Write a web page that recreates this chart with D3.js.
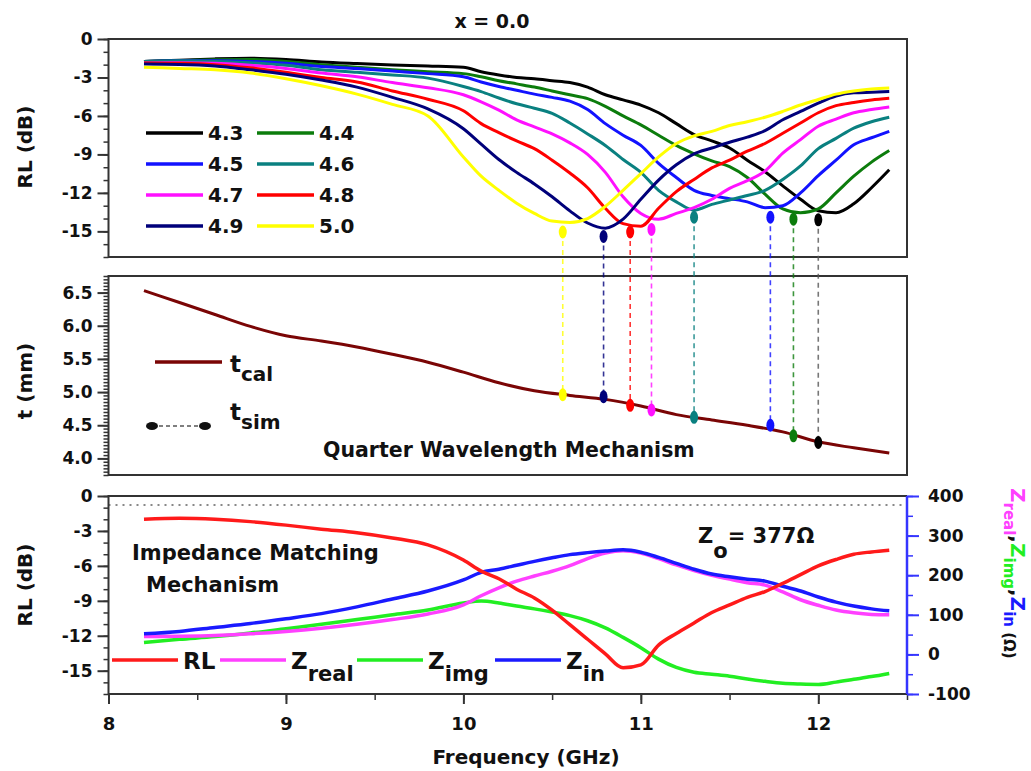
<!DOCTYPE html>
<html>
<head>
<meta charset="utf-8">
<title>x = 0.0</title>
<script src="https://cdnjs.cloudflare.com/ajax/libs/d3/7.8.5/d3.min.js"></script>
<style>
  body { margin: 0; background: #fff; }
  text { font-family: "DejaVu Sans", "Liberation Sans", sans-serif; font-weight: bold; fill: #111; }
  .tick text { font-size: 17px; }
  .xaxis .tick text { font-size: 18px; }
  .tick line { stroke: #333; stroke-width: 2; }
  .minor .tick line { stroke-width: 1.5; }
  .domain { display: none; }
  .zaxis .tick line { stroke: #3535ff; }
</style>
</head>
<body>
<svg id="chart" width="1031" height="771"></svg>
<script>
// ---- data ----
const freq = [8.2, 8.4, 8.6, 8.8, 9.0, 9.2, 9.4, 9.6, 9.8,
  10.0, 10.1, 10.2, 10.3, 10.4, 10.5, 10.6, 10.7, 10.8, 10.9, 11.0, 11.1, 11.2,
  11.3, 11.4, 11.5, 11.6, 11.7, 11.8, 11.9, 12.0, 12.1, 12.2, 12.3, 12.4];

const thickLabels = ["4.3", "4.4", "4.5", "4.6", "4.7", "4.8", "4.9", "5.0"];
const thickColors = ["#000000", "#0c7c0c", "#1212ff", "#0a8080", "#ff10ff", "#ff0000", "#00007a", "#ffff00"];

const rl43 = [-1.75, -1.65, -1.55, -1.5, -1.6, -1.8, -1.92, -2.02, -2.1,
  -2.2, -2.55, -2.8, -3.0, -3.1, -3.25, -3.4, -3.75, -4.35, -4.75, -5.15, -5.75, -6.6,
  -7.45, -7.95, -8.5, -9.45, -10.35, -11.45, -12.5, -13.4, -13.55, -12.85, -11.6, -10.2];
const rl44 = [-1.75, -1.7, -1.62, -1.6, -1.75, -2.0, -2.2, -2.4, -2.55,
  -2.7, -2.95, -3.25, -3.5, -3.75, -4.05, -4.35, -4.65, -5.25, -6.0, -6.7, -7.5, -8.3,
  -8.95, -9.5, -9.95, -10.8, -12.1, -13.25, -13.55, -13.25, -12.0, -10.7, -9.6, -8.7];
const rl45 = [-1.75, -1.7, -1.7, -1.75, -1.9, -2.15, -2.3, -2.5, -2.7,
  -2.95, -3.35, -3.7, -4.0, -4.3, -4.55, -4.85, -5.5, -6.6, -7.5, -8.3, -9.7, -10.8,
  -11.8, -12.2, -12.45, -12.7, -13.15, -13.0, -12.0, -10.65, -9.45, -8.25, -7.7, -7.2];
const rl46 = [-1.75, -1.7, -1.75, -1.85, -2.05, -2.4, -2.6, -2.8, -3.05,
  -3.7, -4.1, -4.6, -5.05, -5.4, -5.8, -6.55, -7.4, -8.3, -9.4, -10.4, -11.8, -12.7,
  -13.35, -12.9, -12.55, -12.2, -11.8, -10.95, -9.9, -8.55, -7.75, -6.95, -6.45, -6.1];
const rl47 = [-1.87, -1.85, -1.9, -2.05, -2.3, -2.65, -2.95, -3.4, -3.8,
  -4.35, -4.9, -5.55, -6.3, -6.85, -7.4, -8.1, -9.0, -10.4, -12.3, -13.6, -14.05, -13.6,
  -13.15, -12.5, -11.65, -11.05, -10.3, -8.9, -7.85, -6.8, -6.25, -5.75, -5.5, -5.3];
const rl48 = [-1.87, -1.9, -2.0, -2.25, -2.6, -3.0, -3.35, -4.05, -4.7,
  -5.6, -6.6, -7.3, -7.95, -8.55, -9.45, -10.45, -11.6, -13.2, -14.4, -14.6, -13.2, -11.9,
  -10.95, -10.05, -9.45, -8.75, -8.15, -7.35, -6.55, -5.75, -5.2, -4.95, -4.75, -4.62];
const rl49 = [-1.95, -1.98, -2.1, -2.4, -2.75, -3.2, -3.75, -4.55, -5.45,
  -7.0, -8.2, -9.4, -10.4, -11.3, -12.3, -13.4, -14.35, -14.75, -14.05, -12.5, -11.0, -9.8,
  -8.95, -8.5, -8.05, -7.65, -7.15, -6.3, -5.65, -5.0, -4.45, -4.2, -4.15, -4.1];
const rl50 = [-2.2, -2.3, -2.4, -2.65, -3.1, -3.65, -4.3, -5.1, -6.0,
  -9.2, -10.7, -11.8, -12.8, -13.6, -14.2, -14.3, -14.0, -13.05, -11.8, -10.5, -9.2, -8.15,
  -7.55, -7.2, -6.75, -6.45, -6.1, -5.65, -5.15, -4.72, -4.3, -4.05, -3.9, -3.82];
const rlCurves = [rl43, rl44, rl45, rl46, rl47, rl48, rl49, rl50];

// minima (simulated) in the same order as thickLabels
const dipFreq = [12.0, 11.86, 11.73, 11.30, 11.06, 10.94, 10.79, 10.56];
const dipRL = [-14.1, -14.05, -13.9, -13.9, -14.85, -15.05, -15.4, -15.05];
const tSim = [4.24, 4.34, 4.50, 4.62, 4.73, 4.80, 4.93, 4.96];

const tFreq = [8.2, 8.4, 8.6, 8.8, 9.0, 9.2, 9.4, 9.6, 9.8, 10.0, 10.2,
  10.4, 10.6, 10.8, 11.0, 11.2, 11.4, 11.6, 11.8, 12.0, 12.2, 12.4];
const tCal = [6.53, 6.35, 6.17, 5.99, 5.85, 5.77, 5.68, 5.57, 5.45, 5.30, 5.14,
  5.02, 4.95, 4.89, 4.79, 4.66, 4.58, 4.50, 4.40, 4.25, 4.16, 4.08];

const rlMatch = [-2.0, -1.92, -2.0, -2.2, -2.5, -2.85, -3.15, -3.6, -4.2,
  -5.5, -6.45, -7.1, -8.0, -8.75, -9.8, -11.05, -12.3, -13.55, -14.75, -14.5, -12.8, -11.8,
  -10.9, -10.0, -9.35, -8.7, -8.2, -7.5, -6.75, -6.0, -5.45, -5.0, -4.8, -4.65];
const zReal = [45, 46, 48, 52, 58, 66, 76, 88, 102,
  125, 148, 168, 185, 198, 210, 224, 242, 256, 262, 256, 242, 226,
  212, 200, 190, 181, 175, 158, 138, 124, 112, 105, 101, 100];
const zImg = [30, 38, 45, 54, 65, 76, 88, 100, 112,
  130, 135, 130, 122, 115, 107, 98, 85, 67, 43, 17, -12, -33,
  -45, -50, -55, -62, -68, -73, -75, -76, -70, -63, -56, -48];
const zIn = [52, 58, 68, 78, 90, 103, 120, 140, 160,
  188, 207, 215, 225, 235, 244, 252, 257, 261, 264, 258, 245, 230,
  215, 203, 196, 190, 185, 172, 160, 145, 132, 122, 115, 110];
const z0 = 377;

const matchNames = ["RL", "Z", "Z", "Z"];
const matchSubs = ["", "real", "img", "in"];
const matchColors = ["#ff1a1a", "#ff40ff", "#22ee22", "#1a1aff"];

// ---- layout ----
const X0 = 108.5, X1 = 907;
const svg = d3.select("#chart");

const x = d3.scaleLinear().domain([8, 12.5]).range([X0, X1]);
const yTop = d3.scaleLinear().domain([-17, 0]).range([257, 39]);
const yT = d3.scaleLinear().domain([3.75, 6.75]).range([475, 276]);
const yRL = d3.scaleLinear().domain([-17, 0]).range([694, 496]);
const yZ = d3.scaleLinear().domain([-100, 400]).range([694, 496]);

function frame(y0, y1) {
  svg.append("rect")
    .attr("x", X0).attr("y", y0)
    .attr("width", X1 - X0).attr("height", y1 - y0)
    .attr("fill", "none").attr("stroke", "#333").attr("stroke-width", 2);
}

function leftAxis(scale, majors, minors, fmt) {
  svg.append("g").attr("class", "minor")
    .attr("transform", `translate(${X0},0)`)
    .call(d3.axisLeft(scale).tickValues(minors).tickSize(5).tickSizeOuter(0).tickFormat(""));
  svg.append("g")
    .attr("transform", `translate(${X0},0)`)
    .call(d3.axisLeft(scale).tickValues(majors).tickSize(11).tickSizeOuter(0).tickPadding(5).tickFormat(fmt));
}

const intFmt = d => String(d);

// ---- top panel: RL vs frequency for each thickness ----
const lineTop = d3.line().x((d, i) => x(freq[i])).y(d => yTop(d)).curve(d3.curveMonotoneX);
svg.append("g").selectAll("path").data(rlCurves).join("path")
  .attr("d", lineTop)
  .attr("fill", "none")
  .attr("stroke", (d, i) => thickColors[i])
  .attr("stroke-width", 3);

frame(39, 257);
leftAxis(yTop, d3.range(-15, 1, 3), d3.range(-17, 1, 1), intFmt);

svg.append("text").attr("x", 492).attr("y", 28).attr("text-anchor", "middle")
  .attr("font-size", 19).text("x = 0.0");

// legend, two columns
const leg = svg.append("g").selectAll("g").data(thickLabels).join("g")
  .attr("transform", (d, i) => `translate(${i % 2 ? 257 : 146},${133 + Math.floor(i / 2) * 31})`);
leg.append("line").attr("x1", 0).attr("x2", 57)
  .attr("stroke", (d, i) => thickColors[i]).attr("stroke-width", 3.5);
leg.append("text").attr("x", 62).attr("dy", "0.36em").attr("font-size", 20).text(d => d);

// ---- middle panel: thickness ----
frame(276, 475);
leftAxis(yT, d3.range(8, 14).map(v => v / 2), d3.range(75, 136).map(v => v / 20), d3.format(".1f"));

svg.append("path")
  .datum(tCal)
  .attr("d", d3.line().x((d, i) => x(tFreq[i])).y(d => yT(d)).curve(d3.curveMonotoneX))
  .attr("fill", "none").attr("stroke", "#7a0505").attr("stroke-width", 3);

// dashed guides from RL minima down to t_sim
svg.append("g").selectAll("line").data(dipFreq).join("line")
  .attr("x1", d => x(d)).attr("x2", d => x(d))
  .attr("y1", (d, i) => yTop(dipRL[i])).attr("y2", (d, i) => yT(tSim[i]))
  .attr("stroke", (d, i) => i === 0 ? "#555" : thickColors[i])
  .attr("stroke-opacity", 0.8)
  .attr("stroke-width", 1.6)
  .attr("stroke-dasharray", "5,4");

svg.append("g").selectAll("ellipse").data(dipFreq).join("ellipse")
  .attr("cx", d => x(d)).attr("cy", (d, i) => yTop(dipRL[i]))
  .attr("rx", 4).attr("ry", 6.5)
  .attr("fill", (d, i) => thickColors[i]);
svg.append("g").selectAll("ellipse").data(dipFreq).join("ellipse")
  .attr("cx", d => x(d)).attr("cy", (d, i) => yT(tSim[i]))
  .attr("rx", 4).attr("ry", 6.5)
  .attr("fill", (d, i) => thickColors[i]);

// legend for t
svg.append("line").attr("x1", 155).attr("x2", 222).attr("y1", 362).attr("y2", 362)
  .attr("stroke", "#7a0505").attr("stroke-width", 3.5);
svg.append("text").attr("x", 230).attr("y", 372).attr("font-size", 23)
  .text("t").append("tspan").attr("dy", 9).attr("font-size", 20).text("cal");
svg.append("line").attr("x1", 152).attr("x2", 205).attr("y1", 426).attr("y2", 426)
  .attr("stroke", "#555").attr("stroke-width", 1.5).attr("stroke-dasharray", "4,3");
svg.append("g").selectAll("ellipse").data([152, 205]).join("ellipse")
  .attr("cx", d => d).attr("cy", 426).attr("rx", 6).attr("ry", 4).attr("fill", "#111");
svg.append("text").attr("x", 230).attr("y", 420).attr("font-size", 23)
  .text("t").append("tspan").attr("dy", 9).attr("font-size", 20).text("sim");

svg.append("text").attr("x", 323).attr("y", 457).attr("font-size", 20.5)
  .text("Quarter Wavelength Mechanism");

// ---- bottom panel: impedance matching ----
svg.append("line")
  .attr("x1", X0).attr("x2", X1).attr("y1", yZ(z0)).attr("y2", yZ(z0))
  .attr("stroke", "#888").attr("stroke-width", 2).attr("stroke-dasharray", "2,5");

const lineRL = d3.line().x((d, i) => x(freq[i])).y(d => yRL(d)).curve(d3.curveMonotoneX);
const lineZ = d3.line().x((d, i) => x(freq[i])).y(d => yZ(d)).curve(d3.curveMonotoneX);
svg.append("path").datum(zImg).attr("d", lineZ)
  .attr("fill", "none").attr("stroke", matchColors[2]).attr("stroke-width", 3.5);
svg.append("path").datum(zReal).attr("d", lineZ)
  .attr("fill", "none").attr("stroke", matchColors[1]).attr("stroke-width", 3.5);
svg.append("path").datum(zIn).attr("d", lineZ)
  .attr("fill", "none").attr("stroke", matchColors[3]).attr("stroke-width", 3.5);
svg.append("path").datum(rlMatch).attr("d", lineRL)
  .attr("fill", "none").attr("stroke", matchColors[0]).attr("stroke-width", 3.5);

svg.append("path")
  .attr("d", `M${X1},496 H${X0} V694 H${X1}`)
  .attr("fill", "none").attr("stroke", "#333").attr("stroke-width", 2);

leftAxis(yRL, d3.range(-15, 1, 3), d3.range(-17, 1, 1), intFmt);

svg.append("g").attr("class", "minor xaxis")
  .attr("transform", "translate(0,694)")
  .call(d3.axisBottom(x).tickValues(d3.range(8, 12.51, 0.5)).tickSize(6).tickSizeOuter(0).tickFormat(""));
svg.append("g").attr("class", "xaxis")
  .attr("transform", "translate(0,694)")
  .call(d3.axisBottom(x).tickValues([8, 9, 10, 11, 12]).tickSize(10).tickSizeOuter(0).tickPadding(13).tickFormat(intFmt));

// right impedance axis
svg.append("line").attr("x1", X1).attr("x2", X1).attr("y1", 496).attr("y2", 694)
  .attr("stroke", "#3535ff").attr("stroke-width", 2.5);
svg.append("g").attr("class", "minor zaxis")
  .attr("transform", `translate(${X1},0)`)
  .call(d3.axisRight(yZ).tickValues(d3.range(-100, 401, 50)).tickSize(6).tickSizeOuter(0).tickFormat(""));
svg.append("g").attr("class", "zaxis")
  .attr("transform", `translate(${X1},0)`)
  .call(d3.axisRight(yZ).tickValues(d3.range(-100, 401, 100)).tickSize(12).tickSizeOuter(0).tickPadding(9).tickFormat(intFmt));

svg.append("text").attr("x", 132).attr("y", 560).attr("font-size", 21).text("Impedance Matching");
svg.append("text").attr("x", 146).attr("y", 592).attr("font-size", 21).text("Mechanism");

const zo = svg.append("text").attr("x", 698).attr("y", 543).attr("font-size", 21);
zo.append("tspan").text("Z");
zo.append("tspan").attr("dy", 15).text("o");
zo.append("tspan").attr("dy", -15).text("= 377\u03A9");

// bottom legend
const legX = [112, 220, 357, 495];
const mleg = svg.append("g").selectAll("g").data(matchNames).join("g")
  .attr("transform", (d, i) => `translate(${legX[i]},660)`);
mleg.append("line").attr("x1", 0).attr("x2", 66)
  .attr("stroke", (d, i) => matchColors[i]).attr("stroke-width", 3.5);
const mt = mleg.append("text").attr("x", 71).attr("y", 9).attr("font-size", 23);
mt.append("tspan").text(d => d);
mt.append("tspan").attr("dy", 12).attr("font-size", 21).text((d, i) => matchSubs[i]);

// right axis title, rotated to read downward
const rightTitle = [
  { t: "Z", dy: 0, size: 20, c: matchColors[1] },
  { t: "real", dy: 7, size: 15, c: matchColors[1] },
  { t: ",", dy: -7, size: 20, c: "#111" },
  { t: "Z", dy: 0, size: 20, c: matchColors[2] },
  { t: "img", dy: 7, size: 15, c: matchColors[2] },
  { t: ",", dy: -7, size: 20, c: "#111" },
  { t: "Z", dy: 0, size: 20, c: matchColors[3] },
  { t: "in", dy: 7, size: 15, c: matchColors[3] },
  { t: " (\u03A9)", dy: 0, size: 15, c: "#111" }
];
svg.append("text").attr("transform", "translate(1011,488) rotate(90)")
  .selectAll("tspan").data(rightTitle).join("tspan")
  .attr("dy", d => d.dy)
  .attr("font-size", d => d.size)
  .style("fill", d => d.c)
  .text(d => d.t);

// axis titles
svg.append("text").attr("transform", "translate(32,147) rotate(-90)").attr("text-anchor", "middle")
  .attr("font-size", 20).text("RL (dB)");
svg.append("text").attr("transform", "translate(32,381) rotate(-90)").attr("text-anchor", "middle")
  .attr("font-size", 20).text("t (mm)");
svg.append("text").attr("transform", "translate(32,585) rotate(-90)").attr("text-anchor", "middle")
  .attr("font-size", 20).text("RL (dB)");
svg.append("text").attr("x", 526).attr("y", 764).attr("text-anchor", "middle")
  .attr("font-size", 20).text("Frequency (GHz)");
</script>
</body>
</html>
